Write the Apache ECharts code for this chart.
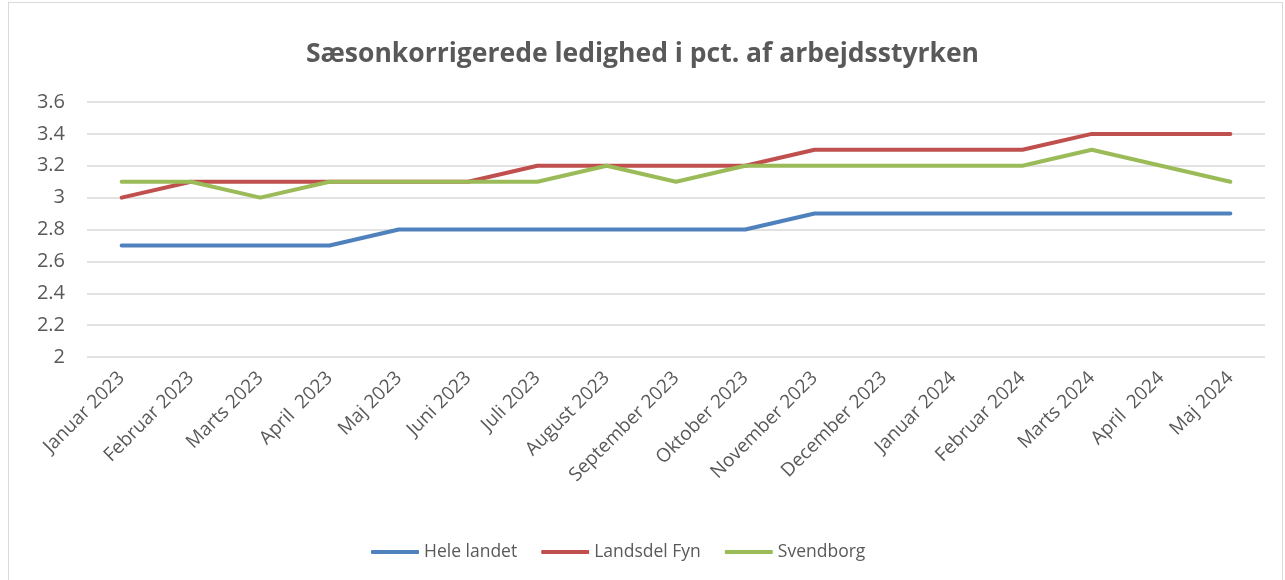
<!DOCTYPE html>
<html><head><meta charset="utf-8">
<script src="https://cdn.jsdelivr.net/npm/echarts@6/dist/echarts.min.js"></script>
<style>
html,body{margin:0;padding:0;background:#fff;}
#frame{position:absolute;left:8px;top:2px;width:1275px;height:600px;border:1px solid #d9d9d9;box-sizing:border-box;}
#c{position:absolute;left:0;top:0;width:1285px;height:580px;}
</style></head>
<body>
<div id="frame"></div>
<div id="c"></div>
<script>
const categories = ["Januar 2023","Februar 2023","Marts 2023","April  2023","Maj 2023","Juni 2023","Juli 2023","August 2023","September 2023","Oktober 2023","November 2023","December 2023","Januar 2024","Februar 2024","Marts 2024","April  2024","Maj 2024"];
const heleLandet = [2.7,2.7,2.7,2.7,2.8,2.8,2.8,2.8,2.8,2.8,2.9,2.9,2.9,2.9,2.9,2.9,2.9];
const landsdelFyn = [3.0,3.1,3.1,3.1,3.1,3.1,3.2,3.2,3.2,3.2,3.3,3.3,3.3,3.3,3.4,3.4,3.4];
const svendborg = [3.1,3.1,3.0,3.1,3.1,3.1,3.1,3.2,3.1,3.2,3.2,3.2,3.2,3.2,3.3,3.2,3.1];
const yTicks = {min:2, max:3.6, interval:0.2};

const font = "'Open Sans', 'Liberation Sans', sans-serif";
const chart = echarts.init(document.getElementById('c'), null, {renderer:'canvas'});
const mk = (name, data, color) => ({
  name, type:'line', data, symbol:'none', smooth:false,
  lineStyle:{width:4, color, cap:'round', join:'round'}, itemStyle:{color}
});
chart.setOption({
  animation:false,
  title:{text:'Sæsonkorrigerede ledighed i pct. af arbejdsstyrken', left:'center', top:36,
    textStyle:{fontFamily:font, fontSize:26.5, fontWeight:'bold', color:'#595959'}},
  grid:{left:87, right:20, top:102, bottom:223, containLabel:false},
  legend:{bottom:14, left:366, itemWidth:48, itemHeight:4, itemGap:24,
    icon:'roundRect',
    textStyle:{fontFamily:font, fontSize:17.5, color:'#595959'},
    data:['Hele landet','Landsdel Fyn','Svendborg']},
  xAxis:{type:'category', data:categories, boundaryGap:true,
    axisLine:{show:false}, axisTick:{show:false},
    axisLabel:{rotate:45, interval:0, fontFamily:font, fontSize:19, color:'#595959', margin:18}},
  yAxis:{type:'value', min:yTicks.min, max:yTicks.max, interval:yTicks.interval,
    axisLine:{show:false}, axisTick:{show:false},
    axisLabel:{fontFamily:font, fontSize:20, color:'#595959', margin:22,
      formatter:v=>String(Math.round(v*10)/10)},
    splitLine:{lineStyle:{color:'#d9d9d9', width:1.5}}},
  series:[mk('Hele landet',heleLandet,'#4F81BD'), mk('Landsdel Fyn',landsdelFyn,'#C0504D'), mk('Svendborg',svendborg,'#9BBB59')]
});
</script>
</body></html>
